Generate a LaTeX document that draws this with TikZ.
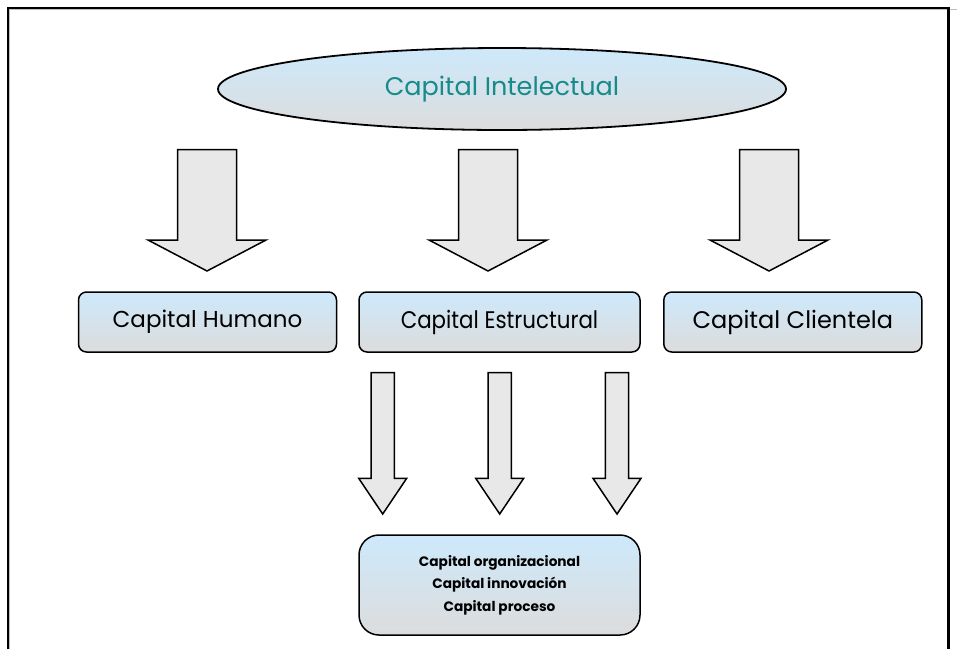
\documentclass[tikz,border=0pt]{standalone}
\usepackage{fontspec}
\setmainfont{Poppins}
\usetikzlibrary{shapes.geometric}
\definecolor{boxtop}{HTML}{CDE9FB}
\definecolor{boxbot}{HTML}{DCDCDC}
\definecolor{arrowfill}{HTML}{E8E8E8}
\definecolor{titleteal}{HTML}{178A8A}
\tikzset{
  shadedfill/.style={top color=boxtop, bottom color=boxbot, draw=black, line width=1.5pt},
  capbox/.style={shadedfill, rectangle, rounded corners=8pt, minimum height=60pt, inner sep=0pt},
  blockarrow/.style={fill=arrowfill, draw=black, line width=1.5pt, line join=miter},
  frameline/.style={draw=black, line width=2.4pt},
  frameshadow/.style={draw=black!25, line width=1.2pt}
}
% block arrow: centre x, top y, shoulder y, tip y, half shaft width, half head width
\newcommand{\downblock}[6]{%
  \path[blockarrow] (#1-#5,#2) -- (#1+#5,#2) -- (#1+#5,#3) -- (#1+#6,#3)
    -- (#1,#4) -- (#1-#6,#3) -- (#1-#5,#3) -- cycle;}
\begin{document}
\begin{tikzpicture}[x=1pt,y=-1pt]
  \useasboundingbox (0,0) rectangle (957,649);
  % page frame
  \draw[frameshadow] (9.5,649) -- (9.5,9.5) -- (957,9.5);
  \draw[frameline] (8,649) -- (8,8) -- (948.5,8) -- (948.5,649);

  % title
  \node[ellipse, shadedfill, line width=1.8pt, minimum width=568pt, minimum height=82pt, inner sep=0pt,
        text=titleteal, font=\fontsize{25.5}{28}\selectfont] (ci) at (502,89) {Capital Intelectual};

  % upper arrows
  \downblock{207}{149.5}{240}{271}{29.5}{59}
  \downblock{488}{149.5}{240}{271}{29.5}{59}
  \downblock{769}{149.5}{240}{271}{29.5}{59}

  % the three capitals
  \node[capbox, minimum width=258pt, font=\fontsize{23}{28}\selectfont] (ch) at (207.5,322) {Capital Humano};
  \node[capbox, minimum width=281pt, font=\fontsize{24}{28}\selectfont] (ce) at (499.5,322) {\scalebox{0.89}[1]{Capital Estructural}};
  \node[capbox, minimum width=258pt, font=\fontsize{24}{28}\selectfont] (cc) at (792.8,322) {Capital Clientela};

  % lower arrows
  \downblock{382.7}{372.7}{478.3}{514}{11.7}{24}
  \downblock{499.7}{372.7}{478.3}{514}{11.7}{24}
  \downblock{617}{372.7}{478.3}{514}{11.7}{24}

  % components of structural capital
  \node[shadedfill, rectangle, rounded corners=20pt, minimum width=281pt, minimum height=100pt, inner sep=0pt,
        align=center, font=\bfseries\fontsize{13.7}{22.5}\selectfont] (cs) at (499.5,585)
        {Capital organizacional\\Capital innovación\\Capital proceso};
\end{tikzpicture}
\end{document}
